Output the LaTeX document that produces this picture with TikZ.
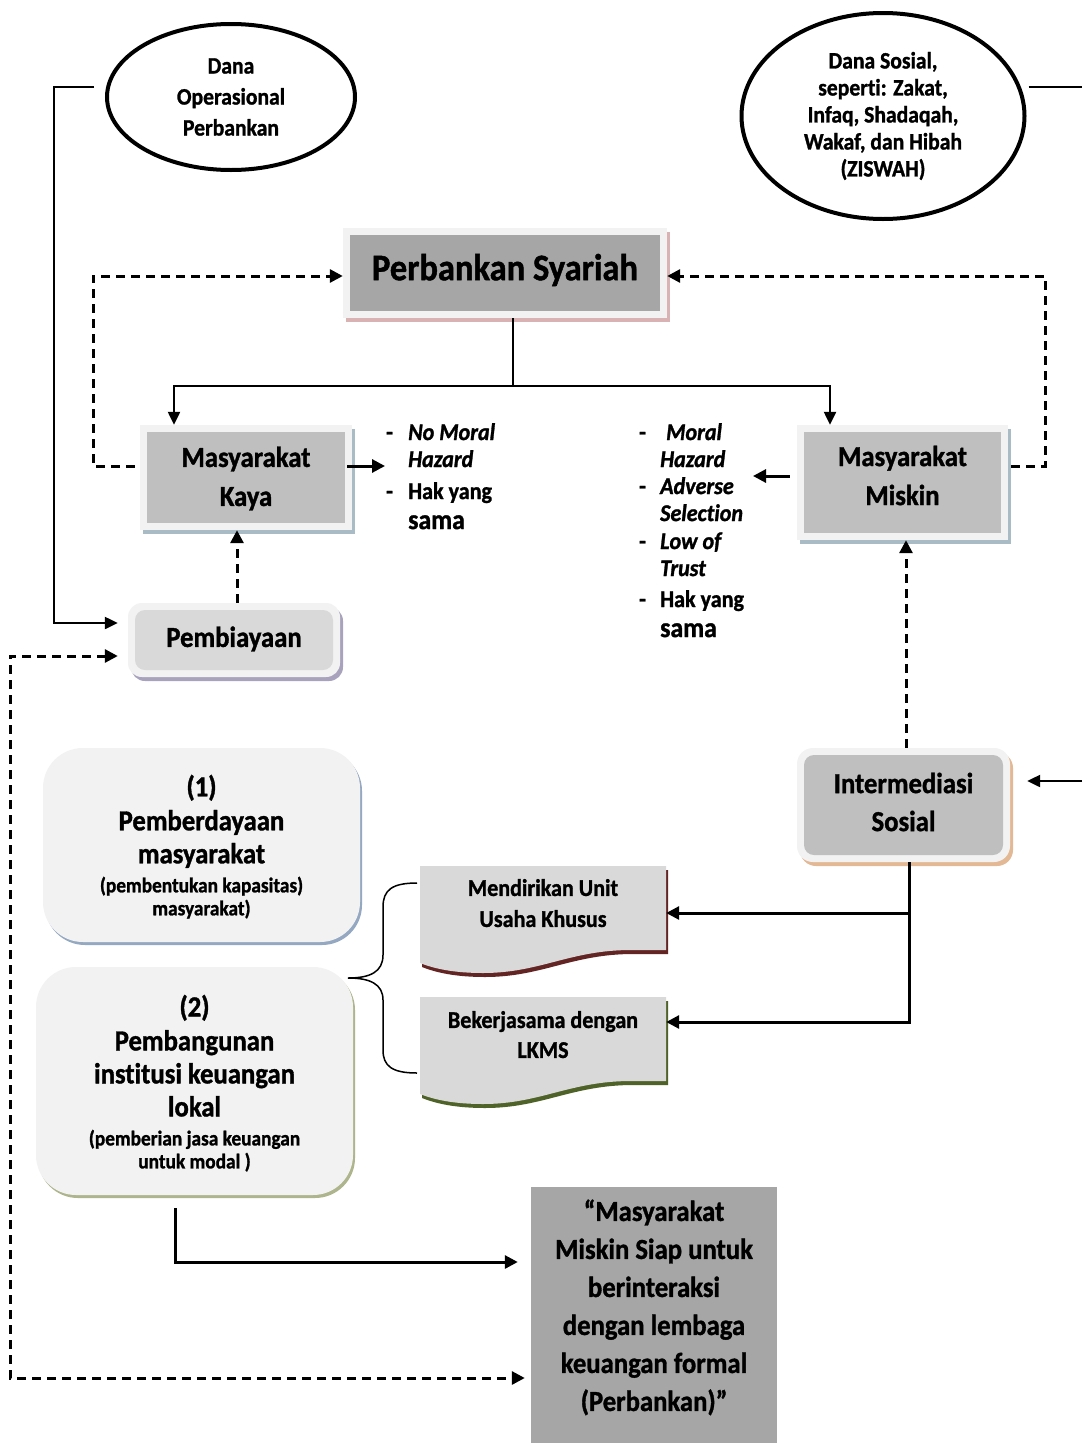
\documentclass[tikz,border=0pt]{standalone}
\usepackage{fontspec}
\setmainfont{Carlito}[FakeStretch=0.92,Ligatures=NoCommon,BoldFeatures={FakeBold=1.2},BoldItalicFeatures={FakeBold=1.2}]
\usetikzlibrary{arrows.meta,shapes.geometric}
\definecolor{framecol}{HTML}{F2F2F2}
\definecolor{dgray}{HTML}{A6A6A6}
\definecolor{mgray}{HTML}{BFBFBF}
\definecolor{lgray}{HTML}{D9D9D9}
\definecolor{shRed}{HTML}{D9B3B3}
\definecolor{shBlue}{HTML}{A9BCC6}
\definecolor{shPurple}{HTML}{A8A2BC}
\definecolor{shTan}{HTML}{E3B995}
\definecolor{shBlueB}{HTML}{95A8C2}
\definecolor{shOlive}{HTML}{AEB58C}
\definecolor{docred}{HTML}{632523}
\definecolor{docgreen}{HTML}{4F6228}
\newcommand\myfs[2]{\fontsize{#1}{#2}\selectfont\bfseries}
\begin{document}
\begin{tikzpicture}[x=1pt,y=-1pt,
  plain/.style={line width=2pt},
  arr/.style={line width=2.3pt,-{Triangle[length=13pt,width=12pt]}},
  arrthick/.style={line width=3pt,-{Triangle[length=13pt,width=13pt]}},
  dasharr/.style={line width=3pt,dash pattern=on 9pt off 6pt,-{Triangle[length=13pt,width=13pt]}},
  dasharrboth/.style={line width=3pt,dash pattern=on 9pt off 6pt,{Triangle[length=13pt,width=13pt]}-{Triangle[length=13pt,width=13pt]}},
  ell/.style={ellipse,draw,line width=4pt,fill=white,align=center,inner sep=0pt},
  frame/.style={rectangle,fill=framecol,inner sep=0pt},
  shadowed/.style={preaction={fill=#1,transform canvas={shift={(3pt,-4pt)}}}},
  inner/.style={path picture={\fill[#1] ([shift={(7pt,-7pt)}]path picture bounding box.north west) rectangle ([shift={(-7pt,7pt)}]path picture bounding box.south east);}},
  innerR/.style={path picture={\fill[#1,rounded corners=10pt] ([shift={(7pt,-7pt)}]path picture bounding box.north west) rectangle ([shift={(-7pt,7pt)}]path picture bounding box.south east);}},
  txt/.style={align=center,inner sep=0pt},
  listtxt/.style={align=left,inner sep=0pt,anchor=north west,font=\myfs{24}{27}},
  bigbox/.style={rectangle,rounded corners=40pt,fill=framecol,inner sep=0pt},
  emptybox/.style={rectangle,inner sep=0pt}
]
\useasboundingbox (0,0) rectangle (1082,1443);
\fill[white] (0,0) rectangle (1082,1443);

% ellipses
\node[ell,minimum width=248pt,minimum height=146pt,font=\myfs{23.5}{31}] (e1) at (231,97) {Dana\\Operasional\\Perbankan};
\node[ell,minimum width=283pt,minimum height=206pt,font=\myfs{23.5}{27}] (e2) at (883,116) {Dana Sosial,\\seperti: Zakat,\\Infaq, Shadaqah,\\Wakaf, dan Hibah\\(ZISWAH)};

% main boxes
\node[frame,shadowed=shRed,inner=dgray,minimum width=324pt,minimum height=90pt] (perb) at (505,273) {};
\node[txt,font=\myfs{37.5}{40}] (perbT) at (505,270) {Perbankan Syariah};

\node[frame,shadowed=shBlue,inner=mgray,minimum width=212pt,minimum height=105pt] (kaya) at (246,477.5) {};
\node[txt,font=\myfs{29}{39}] (kayaT) at (246,478.5) {Masyarakat\\Kaya};

\node[frame,shadowed=shBlue,inner=mgray,minimum width=211pt,minimum height=115pt] (miskin) at (902.5,482.5) {};
\node[txt,font=\myfs{29}{39}] (miskinT) at (902.5,475.5) {Masyarakat\\Miskin};

\node[frame,rounded corners=14pt,shadowed=shPurple,innerR=lgray,minimum width=212pt,minimum height=74pt] (pemb) at (234,640) {};
\node[txt,font=\myfs{29}{33}] (pembT) at (234,639) {Pembiayaan};

\node[frame,rounded corners=16pt,shadowed=shTan,innerR=mgray,minimum width=213pt,minimum height=114pt] (inter) at (903.5,805) {};
\node[txt,font=\myfs{29}{38}] (interT) at (903.5,802) {Intermediasi\\Sosial};

% lists
\node[listtxt] (listK) at (386,423) {\makebox[22pt][l]{-}\textit{No Moral}\\
\hspace*{22pt}\textit{Hazard}\\[5pt]
\makebox[22pt][l]{-}Hak yang\\[3pt]
\hspace*{22pt}{\fontsize{28}{30}\selectfont sama}};
\node[listtxt] (listM) at (639,423) {\makebox[21pt][l]{-}\hspace{6pt}\textit{Moral}\\
\hspace*{21pt}\textit{Hazard}\\
\makebox[21pt][l]{-}\textit{Adverse}\\
\hspace*{21pt}\textit{Selection}\\[1pt]
\makebox[21pt][l]{-}\textit{Low of}\\
\hspace*{21pt}\textit{Trust}\\[4pt]
\makebox[21pt][l]{-}Hak yang\\[3pt]
\hspace*{21pt}{\fontsize{28}{30}\selectfont sama}};

% big rounded boxes
\node[bigbox,preaction={fill=shBlueB,transform canvas={shift={(2pt,-3pt)}}},minimum width=317pt,minimum height=194pt] (b1) at (201.5,845) {};
\node[txt,font=\myfs{29}{33}] (b1T) at (201.5,846.7) {(1)\\[1pt]Pemberdayaan\\masyarakat\\[-4pt]{\fontsize{21}{23}\selectfont (pembentukan kapasitas)}\\[-10pt]{\fontsize{21}{23}\selectfont masyarakat)}};

\node[bigbox,preaction={fill=shOlive,transform canvas={shift={(2pt,-3pt)}}},minimum width=317pt,minimum height=228pt] (b2) at (194.5,1081) {};
\node[txt,font=\myfs{29}{33}] (b2T) at (194.5,1083.2) {(2)\\[1pt]Pembangunan\\institusi keuangan\\lokal\\[-4pt]{\fontsize{21}{23}\selectfont (pemberian jasa keuangan}\\[-10pt]{\fontsize{21}{23}\selectfont untuk modal )}};

% document shapes
\begin{scope}[shift={(2,4)}]
\fill[docred] (420,866) -- (666,866) -- (666,950) -- (631,950) .. controls (570,950) and (540,973) .. (483,973) .. controls (455,973) and (435,969) .. (420,963) -- cycle;
\fill[docgreen] (420,997) -- (666,997) -- (666,1081) -- (631,1081) .. controls (570,1081) and (540,1104) .. (483,1104) .. controls (455,1104) and (435,1100) .. (420,1094) -- cycle;
\end{scope}
\fill[lgray] (420,866) -- (666,866) -- (666,950) -- (631,950) .. controls (570,950) and (540,973) .. (483,973) .. controls (455,973) and (435,969) .. (420,963) -- cycle;
\fill[lgray] (420,997) -- (666,997) -- (666,1081) -- (631,1081) .. controls (570,1081) and (540,1104) .. (483,1104) .. controls (455,1104) and (435,1100) .. (420,1094) -- cycle;
\node[emptybox,minimum width=246pt,minimum height=84pt] (doc1) at (543,908) {};
\node[emptybox,minimum width=246pt,minimum height=84pt] (doc2) at (543,1039) {};
\node[txt,font=\myfs{24}{31}] (doc1T) at (543,903.1) {Mendirikan Unit\\Usaha Khusus};
\node[txt,font=\myfs{24}{30}] (doc2T) at (543,1034.6) {Bekerjasama dengan\\LKMS};

% final box
\node[emptybox,fill=dgray,minimum width=246pt,minimum height=256pt] (fin) at (654,1315) {};
\node[txt,font=\myfs{29}{38}] (finT) at (654,1307.4) {“Masyarakat\\Miskin Siap untuk\\berinteraksi\\dengan lembaga\\keuangan formal\\(Perbankan)”};

% coordinates
\coordinate (split) at (513,386);
\coordinate (dlx) at (93,370);
\coordinate (drx) at (1045,370);
\coordinate (lx) at (54,300);
\coordinate (blx) at (10,1000);
\coordinate (redge1) at (1082,87);
\coordinate (redge2) at (1082,781);
\coordinate (ibot) at (909,1022);
\coordinate (d1a) at ([yshift=-5pt]doc1.east);
\coordinate (d2a) at ([yshift=17pt]doc2.east);

% connectors
\draw[plain] ([xshift=8pt]perb.south) -- (split);
\draw[arr] (split) -| ([xshift=-72pt]kaya.north);
\draw[arr] (split) -| ([xshift=-72.5pt]miskin.north);
\draw[dasharr] ([shift={(-5pt,11.5pt)}]kaya.west) -| (dlx) |- ([yshift=-3pt]perb.west);
\draw[dasharr] ([shift={(3pt,16.5pt)}]miskin.east) -| (drx) |- ([yshift=-3pt]perb.east);
\draw[arrthick] ([shift={(-5pt,11.5pt)}]kaya.east) -- ([shift={(-1pt,-43pt)}]listK.north west);
\draw[arrthick] ([shift={(-7pt,6.5pt)}]miskin.west) -- ([shift={(114pt,-53pt)}]listM.north west);
\draw[dasharr] ([xshift=3pt]pemb.north) -- ([xshift=-9pt]kaya.south);
\draw[dasharr] ([xshift=2.5pt]inter.north) -- ([xshift=3.5pt]miskin.south);
\draw[arr] ([shift={(-11pt,10pt)}]e1.west) -| (lx) |- ([shift={(-10pt,17pt)}]pemb.west);
\draw[dasharrboth] ([shift={(-10pt,-16pt)}]pemb.west) -| (blx) |- ([shift={(-6pt,-63pt)}]fin.west);
\draw[plain] ([shift={(2pt,29pt)}]e2.east) -- (redge1);
\draw[arr] (redge2) -- ([shift={(17pt,24pt)}]inter.east);
\draw[arrthick] ([xshift=5.5pt]inter.south) |- (d2a);
\draw[arrthick] (ibot |- d1a) -- (d1a);
\draw[arrthick] ([shift={(-19.5pt,-13pt)}]b2.south) |- ([shift={(-13pt,53pt)}]fin.west);

% brace
\draw[line width=1.5pt] (417,883) .. controls (392,883) and (383,890) .. (383,907) -- (383,955) .. controls (383,972) and (370,978) .. (348,978) .. controls (370,978) and (383,984) .. (383,1000) -- (383,1050) .. controls (383,1066) and (392,1073) .. (417,1073);
\end{tikzpicture}
\end{document}
